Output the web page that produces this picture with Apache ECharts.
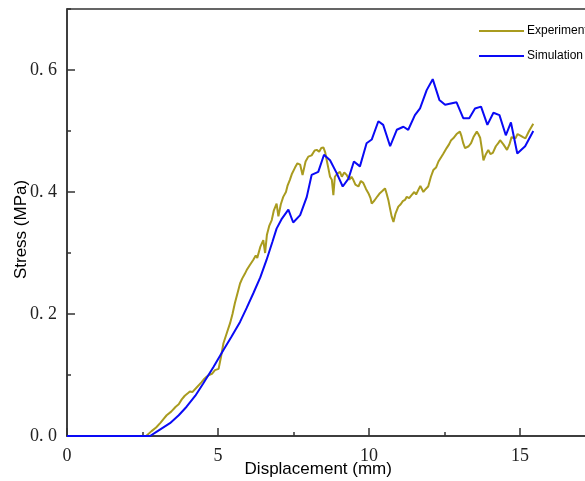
<!DOCTYPE html>
<html>
<head>
<meta charset="utf-8">
<script src="https://cdn.jsdelivr.net/npm/echarts@6/dist/echarts.min.js"></script>
<style>
  html, body { margin: 0; padding: 0; background: #fff; }
  #chart { width: 585px; height: 481px; }
</style>
</head>
<body>
<div id="chart"></div>
<script>
// Experiment: displacement (mm) and stress (MPa)
const expDisp = [2.62,2.8,2.95,3.1,3.2,3.3,3.35,3.45,3.6,3.7,3.8,3.9,4.0,4.07,4.15,4.3,4.45,4.55,4.62,4.7,4.8,4.9,4.96,5.02,5.1,5.18,5.3,5.4,5.48,5.56,5.65,5.73,5.8,5.88,5.95,6.05,6.17,6.25,6.3,6.4,6.5,6.53,6.56,6.62,6.7,6.78,6.85,6.94,7.0,7.08,7.16,7.25,7.3,7.38,7.45,7.55,7.63,7.72,7.8,7.9,7.99,8.1,8.2,8.27,8.35,8.42,8.49,8.55,8.6,8.65,8.71,8.77,8.82,8.87,8.95,9.04,9.1,9.18,9.26,9.35,9.42,9.48,9.55,9.65,9.73,9.81,9.9,9.98,10.05,10.09,10.18,10.28,10.36,10.45,10.53,10.58,10.64,10.7,10.75,10.81,10.88,10.97,11.05,11.12,11.19,11.25,11.33,11.41,11.5,11.56,11.63,11.7,11.8,11.88,11.96,12.05,12.13,12.22,12.3,12.35,12.45,12.57,12.65,12.72,12.79,12.9,13.01,13.06,13.12,13.18,13.23,13.3,13.38,13.46,13.57,13.62,13.68,13.74,13.79,13.87,13.95,14.02,14.1,14.2,14.28,14.34,14.45,14.57,14.65,14.72,14.78,14.85,14.92,15.0,15.1,15.18,15.3,15.44];
const expStress = [0,0.008,0.014,0.022,0.028,0.034,0.031,0.04,0.048,0.052,0.06,0.066,0.07,0.073,0.072,0.08,0.088,0.094,0.097,0.1,0.102,0.108,0.105,0.11,0.13,0.152,0.17,0.185,0.2,0.218,0.235,0.25,0.258,0.265,0.272,0.28,0.289,0.296,0.292,0.31,0.321,0.31,0.3,0.33,0.345,0.354,0.37,0.381,0.36,0.38,0.392,0.4,0.41,0.42,0.43,0.44,0.447,0.445,0.428,0.45,0.458,0.46,0.468,0.469,0.466,0.472,0.473,0.465,0.452,0.44,0.425,0.42,0.395,0.425,0.43,0.433,0.425,0.432,0.428,0.42,0.425,0.42,0.412,0.409,0.418,0.415,0.405,0.398,0.39,0.381,0.386,0.393,0.398,0.402,0.406,0.398,0.387,0.372,0.36,0.351,0.365,0.376,0.38,0.385,0.387,0.392,0.39,0.395,0.4,0.396,0.403,0.41,0.4,0.405,0.409,0.425,0.436,0.44,0.45,0.452,0.462,0.472,0.478,0.485,0.488,0.495,0.499,0.492,0.48,0.472,0.469,0.475,0.48,0.49,0.499,0.495,0.489,0.47,0.452,0.462,0.469,0.462,0.464,0.475,0.48,0.485,0.478,0.469,0.478,0.49,0.493,0.488,0.495,0.493,0.49,0.488,0.5,0.512];

// Simulation: displacement (mm) and stress (MPa)
const simDisp = [0,2.75,3.0,3.41,3.7,3.96,4.25,4.51,4.85,5.18,5.45,5.73,5.95,6.17,6.4,6.61,6.8,6.94,7.1,7.33,7.49,7.72,7.94,8.1,8.32,8.51,8.71,8.93,9.13,9.32,9.5,9.7,9.92,10.09,10.31,10.47,10.7,10.92,11.14,11.3,11.52,11.69,11.91,12.11,12.33,12.52,12.9,13.12,13.32,13.51,13.71,13.92,14.12,14.32,14.53,14.7,14.91,15.17,15.44];
const simStress = [0,0,0.008,0.021,0.034,0.048,0.066,0.086,0.113,0.141,0.163,0.187,0.21,0.234,0.26,0.289,0.318,0.34,0.355,0.371,0.35,0.362,0.392,0.428,0.433,0.461,0.452,0.431,0.409,0.422,0.45,0.442,0.48,0.486,0.516,0.51,0.475,0.502,0.507,0.502,0.526,0.537,0.567,0.585,0.551,0.543,0.547,0.521,0.521,0.537,0.54,0.51,0.53,0.526,0.493,0.514,0.463,0.475,0.5];

const seriesNames = ['Experiment', 'Simulation'];
const xTickLabels = ['0', '5', '10', '15'];
const yTickLabels = ['0. 0', '0. 2', '0. 4', '0. 6'];

const zip = (xs, ys) => xs.map((x, i) => [x, ys[i]]);

const axisColor = '#333';
const serif = '"Liberation Serif", "DejaVu Serif", serif';
const sans = '"Liberation Sans", Arial, sans-serif';

const chart = echarts.init(document.getElementById('chart'));
chart.setOption({
  animation: false,
  grid: {
    left: 67, top: 9, right: -10.5, bottom: 45,
    outerBoundsMode: 'none', containLabel: false,
    show: true, borderColor: axisColor, borderWidth: 1.5, backgroundColor: 'transparent'
  },
  legend: {
    orient: 'vertical',
    left: 478, top: 25, padding: 0,
    itemWidth: 45, itemHeight: 12, itemGap: 13,
    itemStyle: { opacity: 0 },
    textStyle: { fontFamily: sans, fontSize: 12, color: '#000', padding: [0, 0, 0, -2] },
    data: seriesNames
  },
  xAxis: [{
    type: 'value', min: 0, max: 17.5, interval: 5,
    name: 'Displacement (mm)', nameLocation: 'middle', nameGap: 25, nameMoveOverlap: false,
    nameTextStyle: { fontFamily: sans, fontSize: 17, color: '#000', padding: [0, 26, 0, 0] },
    axisLine: { show: true, lineStyle: { color: axisColor, width: 1.5 } },
    axisTick: { show: true, inside: true, length: 8, lineStyle: { color: axisColor, width: 1.5 } },
    axisLabel: {
      margin: 11, fontFamily: serif, fontSize: 18, color: '#222', showMaxLabel: false,
      formatter: v => { const i = Math.round(v / 5); return (Math.abs(v - i * 5) < 1e-6 && i < xTickLabels.length) ? xTickLabels[i] : ''; }
    },
    splitLine: { show: false }
  }, {
    type: 'value', min: 0, max: 17.5, interval: 2.5, position: 'bottom',
    axisLine: { show: false },
    axisTick: { show: true, inside: true, length: 4, lineStyle: { color: axisColor, width: 1.5 } },
    axisLabel: { show: false },
    splitLine: { show: false }
  }],
  yAxis: [{
    type: 'value', min: 0, max: 0.7, interval: 0.2,
    name: 'Stress (MPa)', nameLocation: 'middle', nameGap: 37, nameMoveOverlap: false,
    nameTextStyle: { fontFamily: sans, fontSize: 17, color: '#000', padding: [0, 0, 0, -14] },
    axisLine: { show: true, lineStyle: { color: axisColor, width: 1.5 } },
    axisTick: { show: true, inside: true, length: 8, lineStyle: { color: axisColor, width: 1.5 } },
    axisLabel: {
      margin: 10, fontFamily: serif, fontSize: 18, color: '#222', showMaxLabel: false,
      formatter: v => { const i = Math.round(v / 0.2); return (Math.abs(v - i * 0.2) < 1e-6 && i < yTickLabels.length) ? yTickLabels[i] : ''; }
    },
    splitLine: { show: false }
  }, {
    type: 'value', min: 0, max: 0.7, interval: 0.1, position: 'left',
    axisLine: { show: false },
    axisTick: { show: true, inside: true, length: 4, lineStyle: { color: axisColor, width: 1.5 } },
    axisLabel: { show: false },
    splitLine: { show: false }
  }],
  series: [{
    name: seriesNames[0], type: 'line', symbol: 'none',
    xAxisIndex: 0, yAxisIndex: 0,
    lineStyle: { color: '#a99b1f', width: 2 }, itemStyle: { color: '#a99b1f' },
    data: zip(expDisp, expStress), z: 2
  }, {
    name: seriesNames[1], type: 'line', symbol: 'none',
    xAxisIndex: 0, yAxisIndex: 0,
    lineStyle: { color: '#0a0af5', width: 2 }, itemStyle: { color: '#0a0af5' },
    data: zip(simDisp, simStress), z: 3
  }]
});
</script>
</body>
</html>
